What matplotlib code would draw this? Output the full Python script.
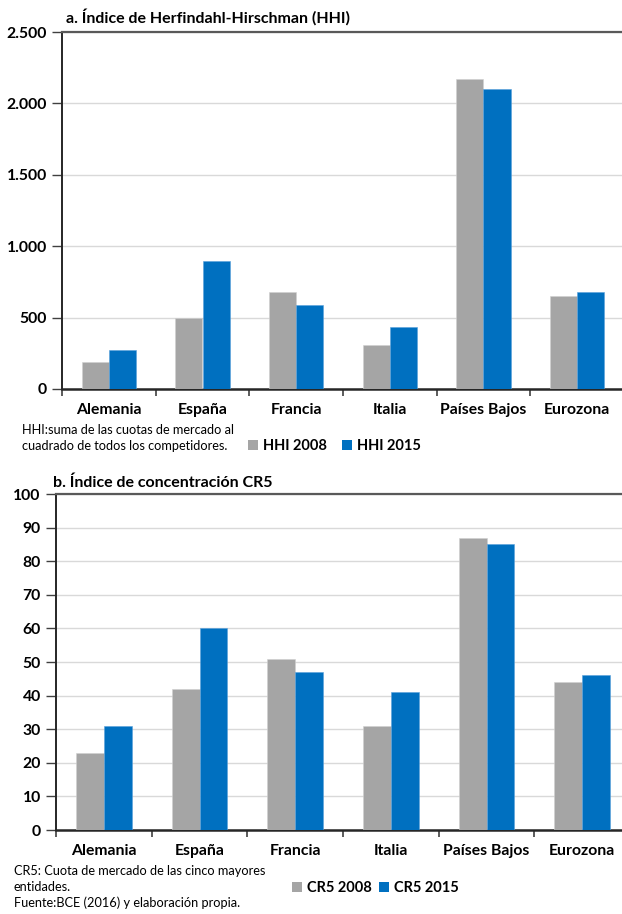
"""
Concentración bancaria: HHI y CR5 por país, 2008 frente a 2015.
"""

import matplotlib
matplotlib.use("Agg")
import matplotlib.pyplot as plt
import numpy as np
from matplotlib.patches import Patch
from matplotlib.ticker import FuncFormatter, FixedLocator

plt.rcParams["font.family"] = ["Lato", "DejaVu Sans"]

countries = ["Alemania", "España", "Francia", "Italia", "Países Bajos", "Eurozona"]
hhi_2008 = [190, 500, 680, 310, 2170, 650]
hhi_2015 = [270, 895, 590, 435, 2100, 678]
cr5_2008 = [23, 42, 51, 31, 87, 44]
cr5_2015 = [31, 60, 47, 41, 85, 46]

hhi_ticks = [0, 500, 1000, 1500, 2000, 2500]
cr5_ticks = list(range(0, 101, 10))

GRAY = "#A5A5A5"
BLUE = "#0070C0"
W, H = 622, 914


def _fig_rect(left, top, right, bottom):
    return [left / W, 1 - bottom / H, (right - left) / W, (bottom - top) / H]


def _thousands(v, _pos):
    return f"{v:,.0f}".replace(",", ".")


def _panel(fig, rect, v08, v15, ticks, fmt):
    ax = fig.add_axes(rect)
    x = np.arange(len(countries))
    bw = 0.29
    ax.bar(x - bw / 2, v08, bw, color=GRAY, edgecolor="#D0D0D0", linewidth=0.4, zorder=3)
    ax.bar(x + bw / 2, v15, bw, color=BLUE, edgecolor="#5AA0DA", linewidth=0.4, zorder=3)

    ax.set_xlim(-0.5, len(countries) - 0.5)
    ax.set_ylim(ticks[0], ticks[-1])
    ax.set_yticks(ticks)
    if fmt:
        ax.yaxis.set_major_formatter(FuncFormatter(fmt))
    ax.grid(axis="y", color="#D9D9D9", linewidth=1.0, zorder=0)

    ax.set_xticks(x)
    ax.set_xticklabels(countries, fontsize=11.3, fontweight="bold")
    ax.tick_params(axis="x", which="major", length=0, pad=10)
    ax.xaxis.set_minor_locator(FixedLocator(np.arange(-0.5, len(countries), 1.0)))
    ax.tick_params(axis="x", which="minor", length=5, width=1.2, color="#404040")
    ax.tick_params(axis="y", length=7, width=1.0, color="#404040", pad=4,
                   labelsize=11.3)
    for lab in ax.get_yticklabels():
        lab.set_fontweight("bold")

    ax.spines["right"].set_visible(False)
    ax.spines["left"].set_color("#262626")
    ax.spines["left"].set_linewidth(1.4)
    ax.spines["bottom"].set_color("#262626")
    ax.spines["bottom"].set_linewidth(1.8)
    ax.spines["top"].set_color("#595959")
    ax.spines["top"].set_linewidth(1.6)
    ax.set_axisbelow(True)
    return ax


def _legend_item(fig, x, y, color, label):
    # one entry per legend so each square can sit where the reference has it
    fig.legend([Patch(facecolor=color, edgecolor="none")], [label], loc="center left",
               bbox_to_anchor=(x / W, 1 - y / H), frameon=False,
               handlelength=0.7, handleheight=0.7, handletextpad=0.3,
               borderpad=0, borderaxespad=0, prop={"size": 10.5, "weight": "bold"})


fig = plt.figure(figsize=(W / 100, H / 100), dpi=100)

ax_a = _panel(fig, _fig_rect(62, 32, 624, 389), hhi_2008, hhi_2015, hhi_ticks, _thousands)
fig.text(66 / W, 1 - 17 / H, "a. Índice de Herfindahl-Hirschman (HHI)",
         fontsize=11.5, fontweight="bold", va="center", ha="left")
fig.text(22 / W, 1 - 430 / H, "HHI:suma de las cuotas de mercado al", fontsize=9.2, va="center")
fig.text(22 / W, 1 - 446 / H, "cuadrado de todos los competidores.", fontsize=9.2, va="center")
_legend_item(fig, 248, 446, GRAY, "HHI 2008")
_legend_item(fig, 342, 446, BLUE, "HHI 2015")

ax_b = _panel(fig, _fig_rect(56, 494, 630, 830), cr5_2008, cr5_2015, cr5_ticks, None)
fig.text(53 / W, 1 - 483 / H, "b. Índice de concentración CR5",
         fontsize=11.5, fontweight="bold", va="center", ha="left")
fig.text(14 / W, 1 - 871 / H, "CR5: Cuota de mercado de las cinco mayores", fontsize=9.2, va="center")
fig.text(14 / W, 1 - 887 / H, "entidades.", fontsize=9.2, va="center")
fig.text(14 / W, 1 - 903 / H, "Fuente:BCE (2016) y elaboración propia.", fontsize=9.2, va="center")
_legend_item(fig, 292, 888, GRAY, "CR5 2008")
_legend_item(fig, 379, 888, BLUE, "CR5 2015")

fig.savefig("out.png", dpi=100)
plt.close(fig)
